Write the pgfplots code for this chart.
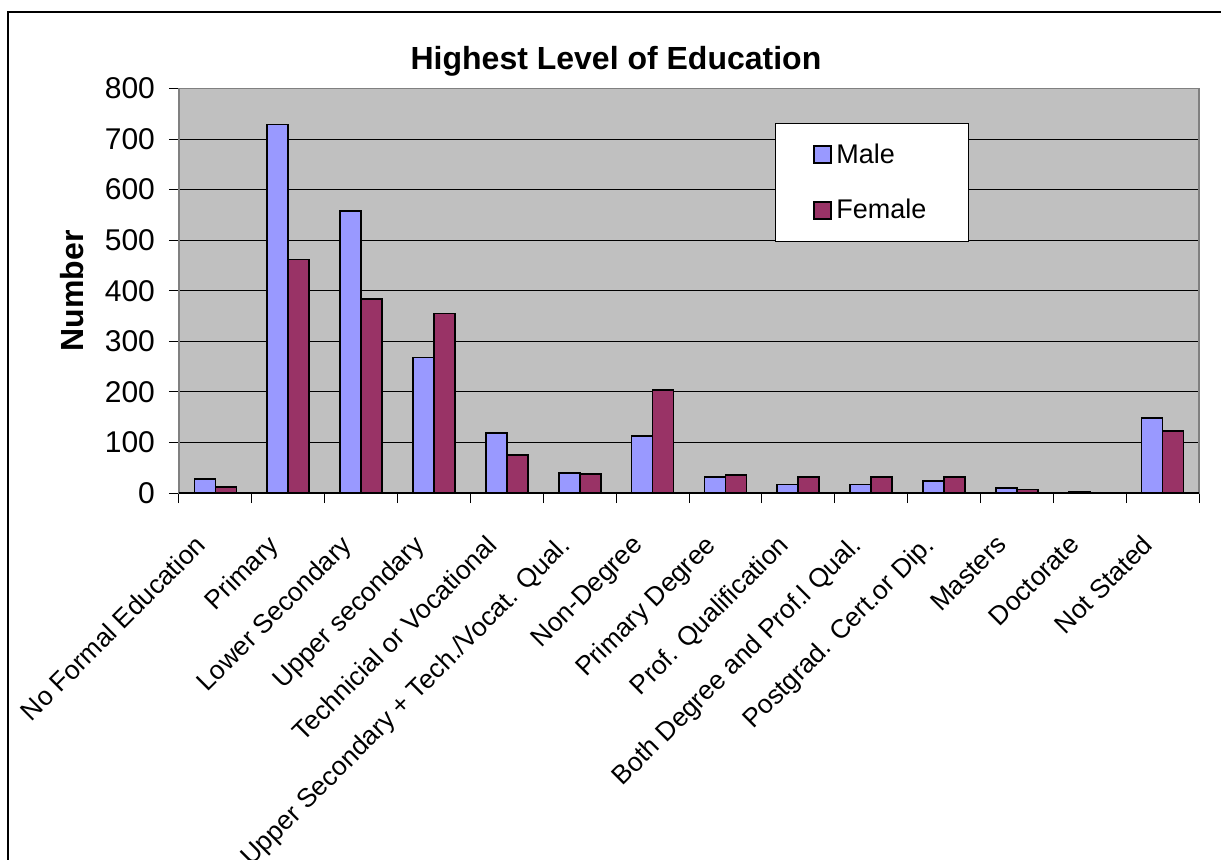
\documentclass[border=0pt]{standalone}
\usepackage{fontspec}
\setmainfont{Liberation Sans}
\usepackage{pgfplots}
\pgfplotsset{compat=1.18}

\definecolor{male}{HTML}{9999FF}
\definecolor{female}{HTML}{993366}
\definecolor{plotbg}{HTML}{C0C0C0}
\definecolor{framegray}{HTML}{808080}

\begin{document}
\begin{tikzpicture}
\useasboundingbox (-89.5pt,-183pt) rectangle (521pt,246.5pt);
% outer chart frame (right and bottom edges fall outside the picture)
\draw[line width=0.8pt] (-85.5pt,-200pt) -- (-85.5pt,240.5pt) -- (540pt,240.5pt);
\begin{axis}[
    at={(0pt,0pt)}, anchor=south west,
    scale only axis, width=510pt, height=202.25pt,
    ybar=0pt, bar width=10.5pt,
    xmin=-0.5, xmax=13.5, ymin=0, ymax=800,
    axis background/.style={fill=plotbg},
    axis line style={framegray, line width=0.8pt},
    ymajorgrids, major grid style={black, line width=0.5pt},
    tick align=outside, major tick length=5pt,
    tick style={black, line width=0.5pt},
    xtick pos=bottom, ytick pos=left,
    ytick={0,100,...,800},
    /pgf/number format/assume math mode=true,
    yticklabel style={font=\fontsize{15}{18}\selectfont, xshift=-3.5pt},
    xtick={-0.5,0.5,...,13.5}, xticklabels={},
    extra x ticks={0,1,...,13},
    extra x tick labels={No Formal Education, Primary, Lower Secondary,
        Upper secondary, Technicial or Vocational,
        Upper Secondary + Tech./Vocat. Qual., Non-Degree, Primary Degree,
        Prof. Qualification, Both Degree and Prof.l Qual.,
        Postgrad. Cert.or Dip., Masters, Doctorate, Not Stated},
    extra x tick style={tick style={draw=none}},
    xticklabel style={font=\fontsize{13.2}{16}\selectfont, inner sep=0pt,
        xshift=-11pt, yshift=-15pt, rotate=45, anchor=north east},
    ylabel={\bfseries Number},
    ylabel style={font=\fontsize{16}{19}\selectfont,
        at={(axis description cs:-0.1049,0.5)}, anchor=center},
    title={Highest Level of Education},
    title style={font=\bfseries\fontsize{16}{19}\selectfont,
        at={(axis description cs:0.4284,1.0173)}, anchor=base},
    legend style={at={(axis description cs:0.5843,0.9147)}, anchor=north west,
        draw=black, line width=0.5pt, fill=white,
        font=\fontsize{13.5}{16}\selectfont,
        inner xsep=19pt, inner ysep=8pt, row sep=12.5pt,
        cells={anchor=west}},
    legend image code/.code={\draw[#1] (0pt,-4.25pt) rectangle (8.5pt,4.25pt);},
]
\addplot[fill=male, draw=black, line width=0.9pt] coordinates {
    (0,28) (1,729) (2,558) (3,268) (4,118) (5,40) (6,112)
    (7,32) (8,17) (9,17) (10,23) (11,10) (12,3) (13,149)
};
\addlegendentry{Male}
\addplot[fill=female, draw=black, line width=0.9pt] coordinates {
    (0,12) (1,462) (2,383) (3,355) (4,75) (5,38) (6,203)
    (7,36) (8,32) (9,32) (10,32) (11,7) (12,0) (13,123)
};
\addlegendentry{Female}
\draw[black, line width=0.6pt] (rel axis cs:0,0) -- (rel axis cs:1,0);
\end{axis}
\end{tikzpicture}
\end{document}
